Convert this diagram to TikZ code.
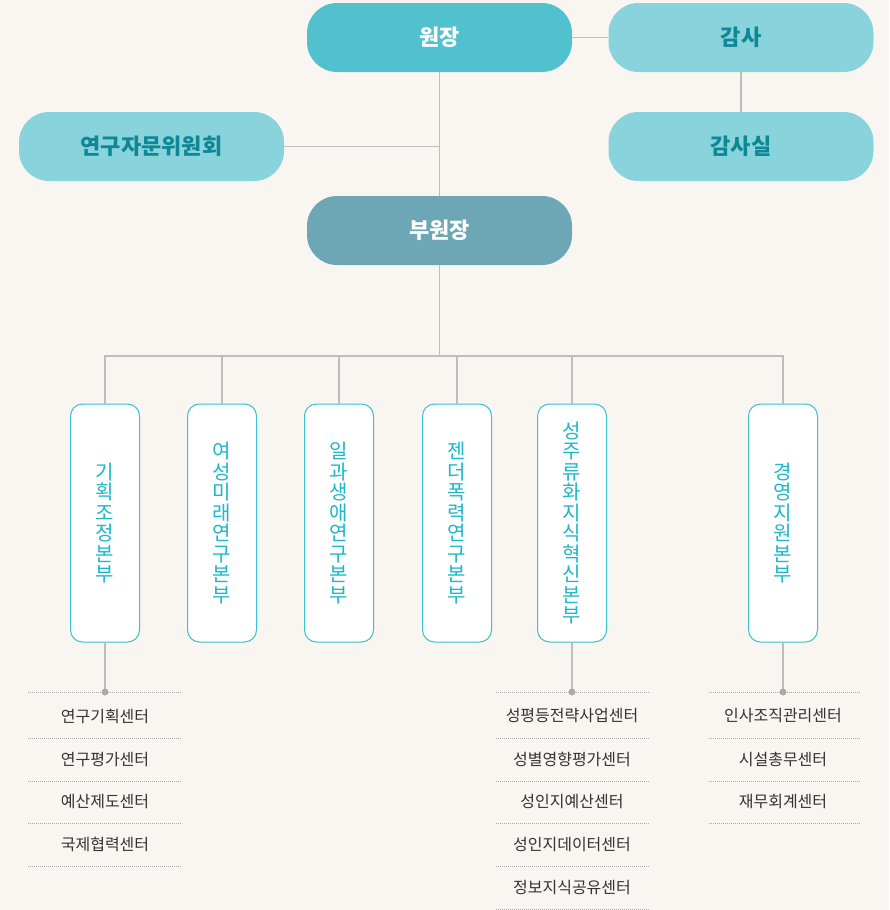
\documentclass[tikz,border=0pt]{standalone}
\usepackage{fontspec}
\setmainfont{Noto Sans CJK KR}
\definecolor{bg}{RGB}{249,246,241}
\definecolor{cmain}{RGB}{82,193,207}
\definecolor{clight}{RGB}{137,211,220}
\definecolor{cdeep}{RGB}{109,167,181}
\definecolor{tealtext}{RGB}{14,135,150}
\definecolor{cyanline}{RGB}{60,192,206}
\definecolor{cyantext}{RGB}{27,184,201}
\definecolor{conncol}{RGB}{190,190,190}
\definecolor{dotcol}{RGB}{170,170,170}
\definecolor{listtext}{RGB}{51,51,51}
\begin{document}
\begin{tikzpicture}[x=1pt,y=-1pt,
  pill/.style={rectangle, rounded corners=30pt, minimum width=265pt, minimum height=69pt, inner sep=0pt, font=\fontsize{22}{24}\selectfont\bfseries},
  mainpill/.style={pill, fill=cmain, text=white},
  lightpill/.style={pill, fill=clight, text=tealtext},
  deeppill/.style={pill, fill=cdeep, text=white},
  vbox/.style={rectangle, rounded corners=12pt, minimum width=69pt, minimum height=238pt, inner sep=0pt, draw=cyanline, line width=1pt, fill=white, text=cyantext, align=center, font=\fontsize{20}{20.5}\selectfont},
  conn/.style={draw=conncol, line width=1.2pt},
  dotline/.style={draw=dotcol, line width=0.8pt, dash pattern=on 1pt off 1pt},
  item/.style={text=listtext, font=\fontsize{16}{18}\selectfont, inner sep=0pt}
]
\fill[bg] (0,0) rectangle (889,910);
\useasboundingbox (0,0) rectangle (889,910);

% top level
\node[mainpill] (wonjang) at (439.5,37.5) {원장};
\node[lightpill] (gamsa) at (741,37.5) {감사};
\node[lightpill] (jamun) at (151.5,146.5) {연구자문위원회};
\node[lightpill] (gamsasil) at (741,146.5) {감사실};
\node[deeppill] (buwon) at (439.5,230.5) {부원장};

\draw[conn] (wonjang.east) -- (gamsa.west);
\draw[conn] (gamsa.south) -- (gamsasil.north);
\draw[conn] (wonjang.south) -- (buwon.north);
\draw[conn] (jamun.east) -- (jamun.east -| wonjang.south);

% divisions
\coordinate (bus) at (439.5,356);
\node[vbox] (b1) at (105,523) {기\\획\\조\\정\\본\\부};
\node[vbox] (b2) at (222,523) {여\\성\\미\\래\\연\\구\\본\\부};
\node[vbox] (b3) at (339,523) {일\\과\\생\\애\\연\\구\\본\\부};
\node[vbox] (b4) at (457,523) {젠\\더\\폭\\력\\연\\구\\본\\부};
\node[vbox] (b5) at (572,523) {성\\주\\류\\화\\지\\식\\혁\\신\\본\\부};
\node[vbox] (b6) at (783,523) {경\\영\\지\\원\\본\\부};

\draw[conn] (buwon.south) -- (bus);
\draw[conn] (b1.north) |- (bus);
\draw[conn] (b6.north) |- (bus);
\draw[conn] (b2.north) -- (b2.north |- bus);
\draw[conn] (b3.north) -- (b3.north |- bus);
\draw[conn] (b4.north) -- (b4.north |- bus);
\draw[conn] (b5.north) -- (b5.north |- bus);

% centre lists
\coordinate (d1) at (105,692);
\coordinate (d5) at (572,692);
\coordinate (d6) at (783,692);
\draw[conn] (b1.south) -- (d1);
\draw[conn] (b5.south) -- (d5);
\draw[conn] (b6.south) -- (d6);

\foreach \yy in {692,738,781,823,866} \draw[dotline] (28,\yy) -- (181,\yy);
\foreach \yy in {692,738,781,823,866,909} \draw[dotline] (496,\yy) -- (649,\yy);
\foreach \yy in {692,738,781,823} \draw[dotline] (709,\yy) -- (861,\yy);

\fill[dotcol] (d1) circle (3.5);
\fill[dotcol] (d5) circle (3.5);
\fill[dotcol] (d6) circle (3.5);

\node[item] (l1) at (105,716) {연구기획센터};
\node[item] (l2) at (105,759.5) {연구평가센터};
\node[item] (l3) at (105,802) {예산제도센터};
\node[item] (l4) at (105,844.5) {국제협력센터};

\node[item] (m1) at (572,716) {성평등전략사업센터};
\node[item] (m2) at (572,759.5) {성별영향평가센터};
\node[item] (m3) at (572,802) {성인지예산센터};
\node[item] (m4) at (572,844.5) {성인지데이터센터};
\node[item] (m5) at (572,887.5) {정보지식공유센터};

\node[item] (r1) at (783,716) {인사조직관리센터};
\node[item] (r2) at (783,759.5) {시설총무센터};
\node[item] (r3) at (783,802) {재무회계센터};
\end{tikzpicture}
\end{document}
